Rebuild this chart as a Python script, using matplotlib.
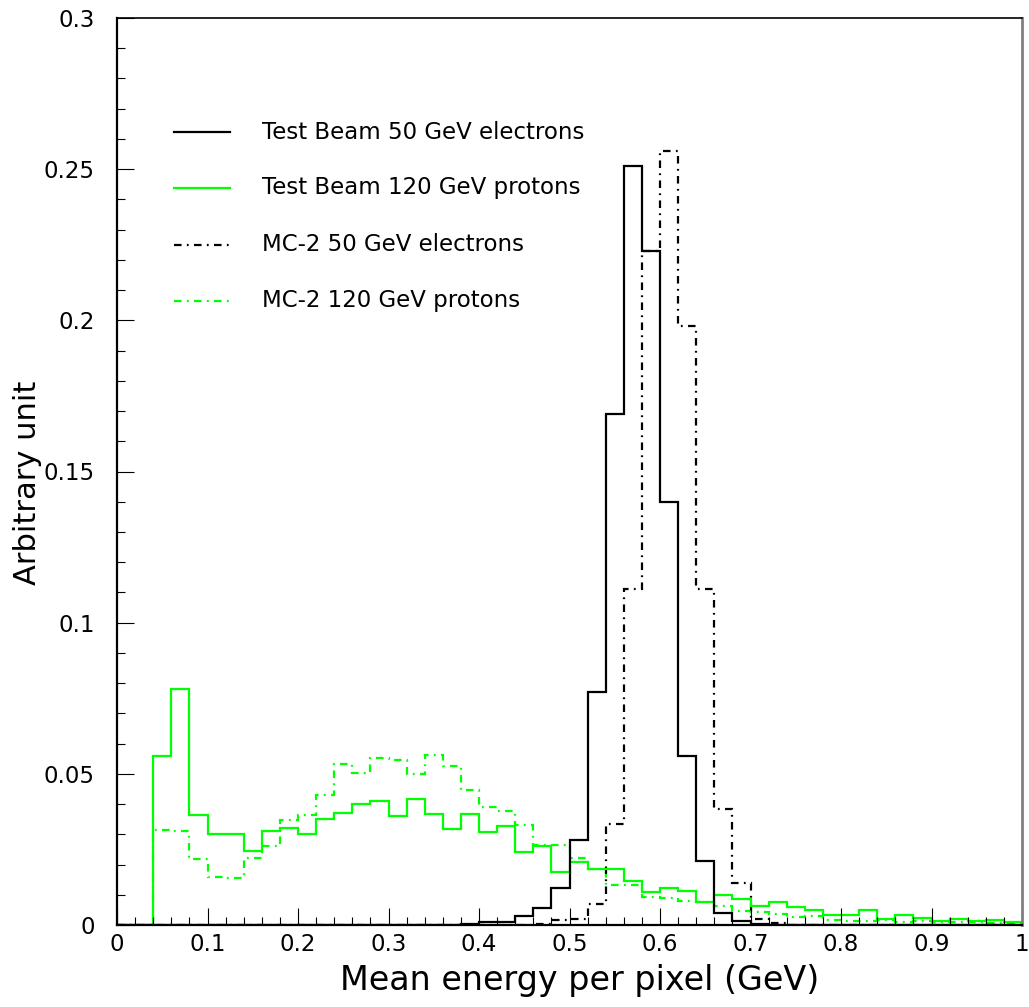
import numpy as np
import matplotlib
matplotlib.use("Agg")
import matplotlib.pyplot as plt

# 50 bins of 0.02 GeV between 0 and 1
n_bins = 50
x_min, x_max = 0.0, 1.0

tb_electrons = [
    0, 0, 0, 0, 0, 0, 0, 0, 0, 0,
    0, 0, 0, 0, 0, 0, 0, 0, 0, 0.0003,
    0.001, 0.001, 0.003, 0.0055, 0.0124, 0.028, 0.077, 0.169, 0.251, 0.223,
    0.140, 0.056, 0.0213, 0.0039, 0.0013, 0.0003, 0, 0, 0, 0,
    0, 0, 0, 0, 0, 0, 0, 0, 0, 0,
]
tb_protons = [
    0, 0, 0.056, 0.078, 0.0365, 0.030, 0.030, 0.0245, 0.031, 0.032,
    0.030, 0.035, 0.037, 0.040, 0.041, 0.036, 0.0417, 0.0366, 0.0317, 0.0368,
    0.0308, 0.0326, 0.024, 0.026, 0.0174, 0.0207, 0.0186, 0.0185, 0.0144, 0.011,
    0.0124, 0.0113, 0.0075, 0.0098, 0.0086, 0.0063, 0.0076, 0.006, 0.005, 0.0034,
    0.0034, 0.0051, 0.0019, 0.0032, 0.0023, 0.0014, 0.0021, 0.0014, 0.0017, 0.0009,
]
mc_electrons = [
    0, 0, 0, 0, 0, 0, 0, 0, 0, 0,
    0, 0, 0, 0, 0, 0, 0, 0, 0, 0,
    0, 0, 0, 0.0003, 0.0015, 0.002, 0.0069, 0.0335, 0.111, 0.223,
    0.256, 0.198, 0.111, 0.0385, 0.014, 0.002, 0.0005, 0, 0, 0,
    0, 0, 0, 0, 0, 0, 0, 0, 0, 0,
]
mc_protons = [
    0, 0, 0.0313, 0.031, 0.0218, 0.0158, 0.0157, 0.0223, 0.0262, 0.0346,
    0.0365, 0.0429, 0.0533, 0.0503, 0.0552, 0.0547, 0.050, 0.0563, 0.0527, 0.0447,
    0.039, 0.0376, 0.033, 0.0265, 0.0265, 0.0222, 0.0186, 0.0133, 0.0133, 0.0093,
    0.009, 0.008, 0.0076, 0.0064, 0.0047, 0.0043, 0.0035, 0.0025, 0.003, 0.0015,
    0.0012, 0.0012, 0.0015, 0.001, 0.0012, 0.0011, 0.001, 0.0009, 0.0008, 0.0005,
]

labels = [
    "Test Beam 50 GeV electrons",
    "Test Beam 120 GeV protons",
    "MC-2 50 GeV electrons",
    "MC-2 120 GeV protons",
]
x_ticks = [0, 0.1, 0.2, 0.3, 0.4, 0.5, 0.6, 0.7, 0.8, 0.9, 1.0]
x_tick_labels = ["0", "0.1", "0.2", "0.3", "0.4", "0.5", "0.6", "0.7", "0.8", "0.9", "1"]
y_ticks = [0, 0.05, 0.1, 0.15, 0.2, 0.25, 0.3]
y_tick_labels = ["0", "0.05", "0.1", "0.15", "0.2", "0.25", "0.3"]

GREEN = "#00ff00"
DASHDOT = (0, (3.4, 2.4, 0.8, 2.4))

plt.rcParams["font.family"] = ["DejaVu Sans"]

fig = plt.figure(figsize=(10.29, 10.07), dpi=100)
ax = fig.add_axes([117 / 1029, 1 - 925 / 1007, 905 / 1029, 907 / 1007])

edges = np.linspace(x_min, x_max, n_bins + 1)
series = [
    (mc_protons, GREEN, DASHDOT),
    (mc_electrons, "black", DASHDOT),
    (tb_protons, GREEN, "-"),
    (tb_electrons, "black", "-"),
]
for vals, color, ls in series:
    ax.stairs(vals, edges, color=color, linestyle=ls, linewidth=1.6,
              baseline=None)

ax.set_xlim(x_min, x_max)
ax.set_ylim(0, 0.3)
ax.set_xticks(x_ticks)
ax.set_xticklabels(x_tick_labels)
ax.set_yticks(y_ticks)
ax.set_yticklabels(y_tick_labels)
ax.set_xticks(np.arange(0, 1.0001, 0.02), minor=True)
ax.set_yticks(np.arange(0, 0.3001, 0.01), minor=True)
ax.tick_params(which="both", direction="in", top=False, right=False,
               width=0.8, labelsize=16.5)
ax.tick_params(which="major", length=12)
ax.tick_params(which="minor", length=6)
ax.tick_params(axis="y", pad=16)
ax.tick_params(axis="x", pad=6)

for side in ["left", "bottom"]:
    ax.spines[side].set_linewidth(1.6)
ax.spines["top"].set_linewidth(1.2)
ax.spines["right"].set_linewidth(2.0)
ax.spines["right"].set_color("#808080")

# legend drawn by hand, PAW style
legend_y = [0.874, 0.813, 0.750, 0.688]
legend_style = [("black", "-"), (GREEN, "-"), ("black", DASHDOT), (GREEN, DASHDOT)]
for yy, (color, ls), text in zip(legend_y, legend_style, labels):
    ax.plot([0.063, 0.125], [yy, yy], transform=ax.transAxes, color=color,
            linestyle=ls, linewidth=1.6)
    ax.text(0.160, yy, text, transform=ax.transAxes, fontsize=16.5,
            va="center", ha="left")

fig.text(0.563, 0.026, "Mean energy per pixel (GeV)", fontsize=24,
         ha="center", va="center")
fig.text(0.027, 0.521, "Arbitrary unit", fontsize=22, rotation=90,
         ha="center", va="center")

fig.savefig("out.png", dpi=100)
